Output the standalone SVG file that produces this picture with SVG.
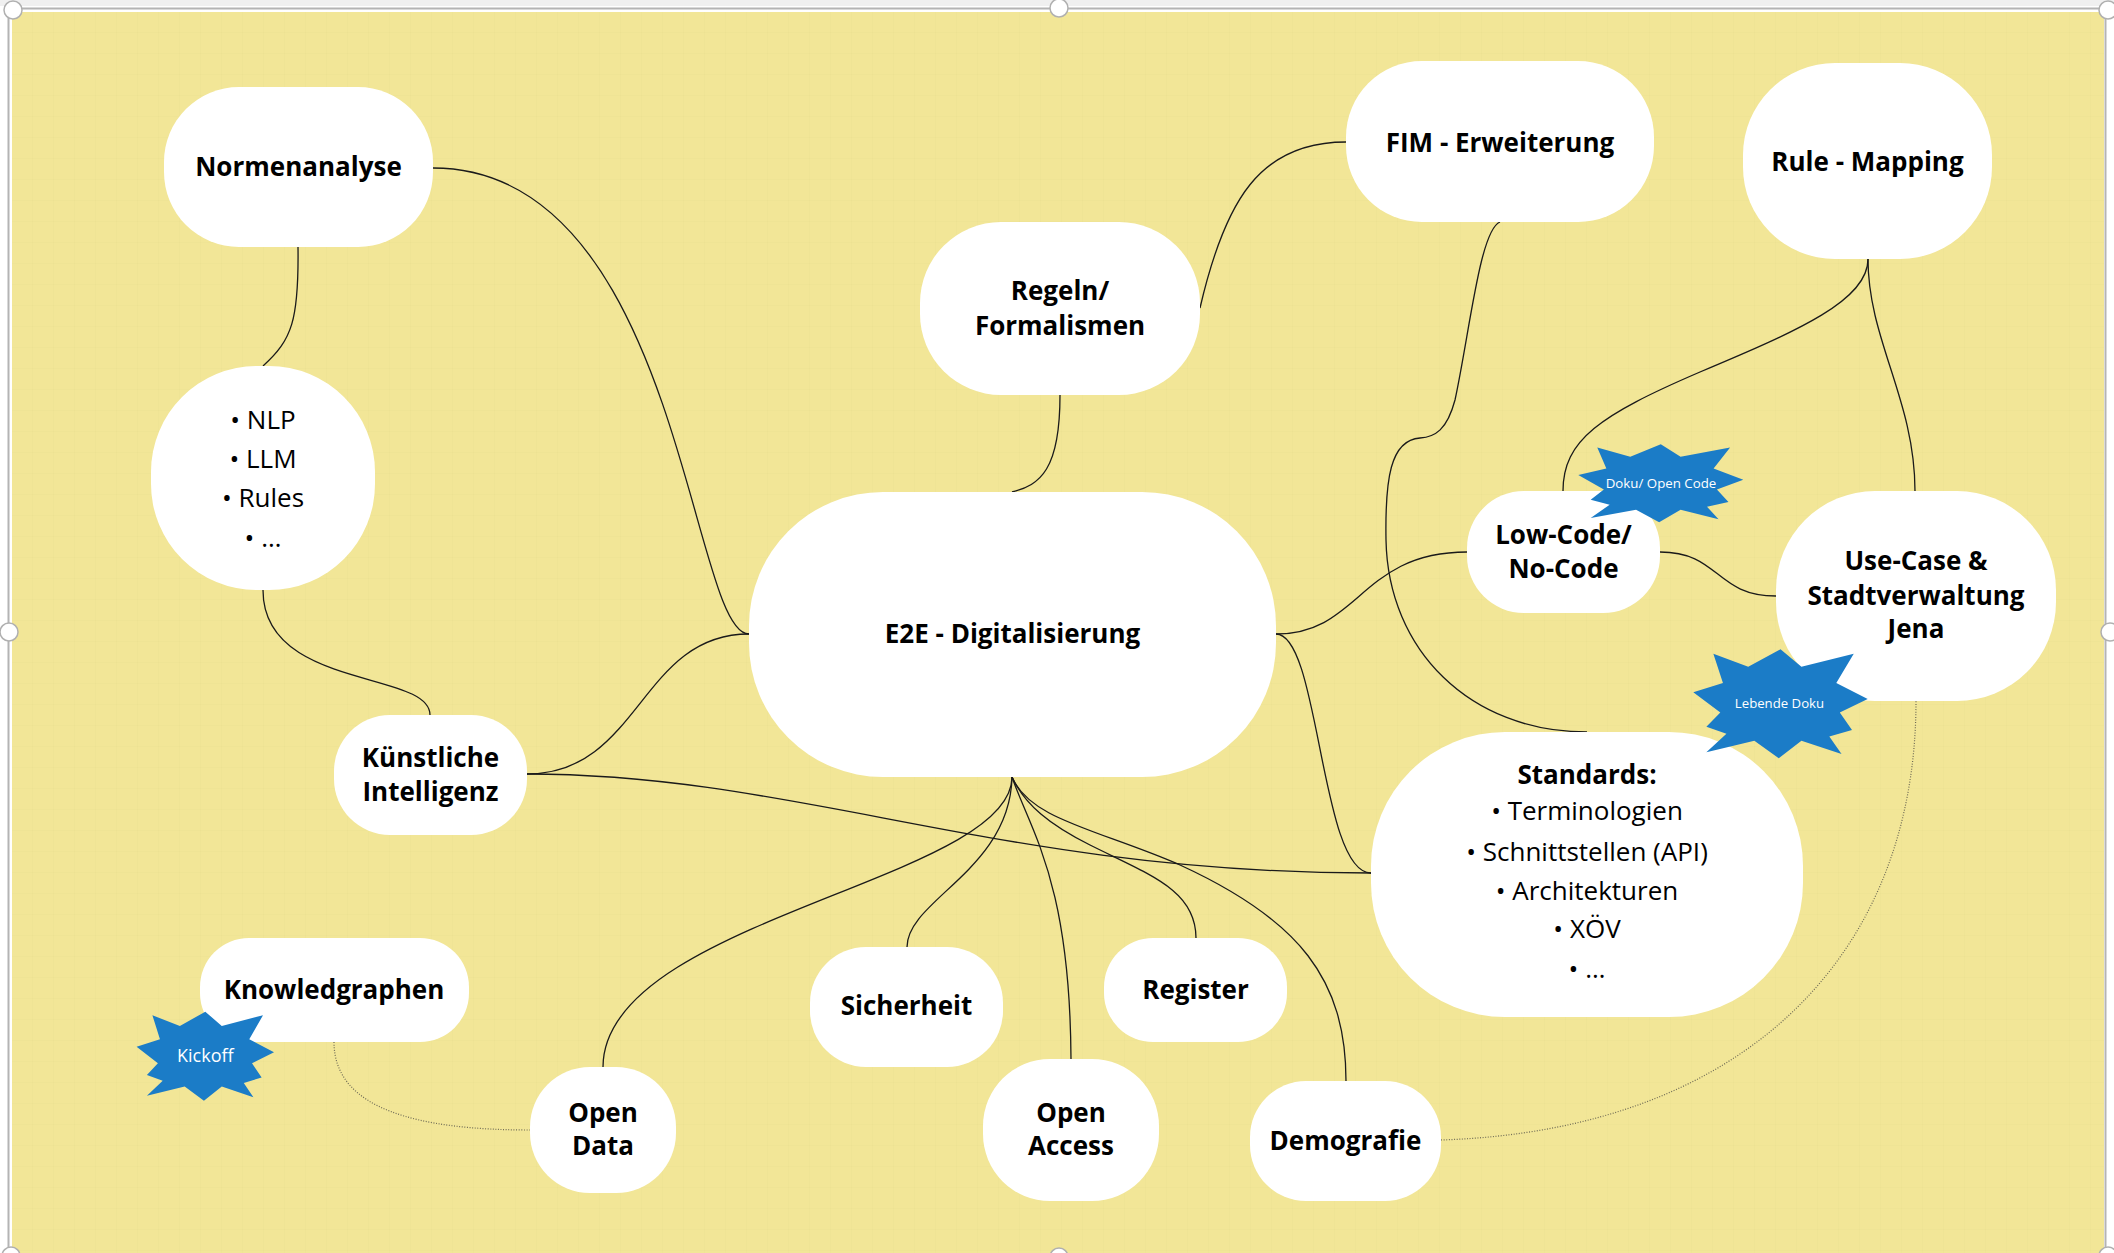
<svg xmlns="http://www.w3.org/2000/svg" width="2114" height="1253" viewBox="0 0 2114 1253">
<defs>
<style>
.node{fill:#ffffff}
.t{font-family:"Open Sans","Liberation Sans",sans-serif;font-weight:bold;font-size:26px;fill:#000;text-anchor:middle}
.r{font-family:"Open Sans","Liberation Sans",sans-serif;font-weight:normal;font-size:26px;fill:#000;text-anchor:middle}
.st{font-family:"Open Sans","Liberation Sans",sans-serif;font-weight:normal;fill:#ffffff;text-anchor:middle}
.c{fill:none;stroke:#1a1a1a;stroke-width:1.3}
.d{fill:none;stroke:#6e6a55;stroke-width:1.2;stroke-dasharray:1 1.6}
.burst{fill:#1b7cc7}
.h{fill:#ffffff;stroke:#b0b0b0;stroke-width:1.5}
</style>
<pattern id="grid" width="21" height="21" patternUnits="userSpaceOnUse" x="12" y="12">
<path d="M21 0V21M0 21H21" fill="none" stroke="#e6da8a" stroke-width="0.8" opacity="0.45"/>
</pattern>
<path id="star" d="M-77,-92 L-37,-68 L0,-100 L24,-68 L84,-92 L64,-38 L100,-9 L68,16 L82,48 L56,60 L70,92 L24,68 L-2,100 L-30,68 L-85,89 L-62,55 L-85,42 L-69,16 L-100,-21 L-66,-38 Z"/>
</defs>
<rect x="0" y="0" width="2114" height="1253" fill="#ffffff"/>
<rect x="0" y="0" width="2114" height="6" fill="#f0f0f0"/>
<rect x="8.5" y="8.5" width="2097" height="1250" fill="none" stroke="#b4b4b4" stroke-width="2"/>
<rect x="12" y="12" width="2092" height="1241" fill="#f2e697"/>
<rect x="12" y="12" width="2092" height="1241" fill="url(#grid)"/>

<g id="connectors">
<path class="c" d="M433,168 C680,168 690,634 749,634"/>
<path class="c" d="M298,247 C299,320 292,340 263,366"/>
<path class="c" d="M263,590 C263,690 430,670 430,715"/>
<path class="c" d="M527,774 C640,774 640,634 749,634"/>
<path class="c" d="M527,774 C800,774 1000,873 1371,873"/>
<path class="c" d="M1060,395 C1060,470 1040,485 1012,492"/>
<path class="c" d="M1200,308 C1225,200 1260,142 1346,142"/>
<path class="c" d="M1500,222 C1480,230 1470,330 1455,400 C1447,430 1435,437 1420,438 C1390,440 1385,480 1386,540 C1388,650 1470,732 1587,732"/>
<path class="c" d="M1276,634 C1360,634 1360,552 1467,552"/>
<path class="c" d="M1276,634 C1320,634 1320,873 1371,873"/>
<path class="c" d="M1660,552 C1720,552 1715,596 1776,596"/>
<path class="c" d="M1563,491 C1563,440 1600,415 1700,372 C1800,330 1868,300 1868,259"/>
<path class="c" d="M1868,259 C1868,340 1915,400 1915,491"/>
<path class="c" d="M1012,777 C1012,880 603,920 603,1067"/>
<path class="c" d="M1012,777 C1010,870 907,900 907,947"/>
<path class="c" d="M1012,777 C1030,830 1070,880 1071,1059"/>
<path class="c" d="M1012,777 C1025,805 1050,825 1090,845 C1150,875 1196,890 1196,938"/>
<path class="c" d="M1012,777 C1030,820 1100,830 1180,865 C1300,920 1346,980 1346,1081"/>
<path class="d" d="M334,1042 C334,1110 420,1130 530,1130"/>
<path class="d" d="M1441,1140 C1750,1130 1916,950 1916,701"/>
</g>

<g id="node-normenanalyse">
<rect class="node" x="164" y="87" width="269" height="160" rx="75" ry="75"/>
<text class="t" x="298.5" y="176">Normenanalyse</text>
</g>
<g id="node-methods">
<rect class="node" x="151" y="366" width="224" height="224" rx="106" ry="106"/>
<text class="r" x="263" y="428.5">• NLP</text>
<text class="r" x="263" y="468">• LLM</text>
<text class="r" x="263" y="507">• Rules</text>
<text class="r" x="263" y="547">• …</text>
</g>
<g id="node-ki">
<rect class="node" x="334" y="715" width="193" height="120" rx="56" ry="56"/>
<text class="t" x="430.5" y="767">Künstliche</text>
<text class="t" x="430.5" y="801">Intelligenz</text>
</g>
<g id="node-knowledgraphen">
<rect class="node" x="200" y="938" width="269" height="104" rx="49" ry="49"/>
<text class="t" x="334" y="999">Knowledgraphen</text>
</g>
<g id="node-opendata">
<rect class="node" x="530" y="1067" width="146" height="126" rx="60" ry="60"/>
<text class="t" x="603" y="1122">Open</text>
<text class="t" x="603" y="1155">Data</text>
</g>
<g id="node-sicherheit">
<rect class="node" x="810" y="947" width="193" height="120" rx="56" ry="56"/>
<text class="t" x="906.5" y="1015">Sicherheit</text>
</g>
<g id="node-openaccess">
<rect class="node" x="983" y="1059" width="176" height="142" rx="67" ry="67"/>
<text class="t" x="1071" y="1122">Open</text>
<text class="t" x="1071" y="1155">Access</text>
</g>
<g id="node-register">
<rect class="node" x="1104" y="938" width="183" height="104" rx="49" ry="49"/>
<text class="t" x="1195.5" y="999">Register</text>
</g>
<g id="node-demografie">
<rect class="node" x="1250" y="1081" width="191" height="120" rx="56" ry="56"/>
<text class="t" x="1345.5" y="1150">Demografie</text>
</g>
<g id="node-e2e">
<rect class="node" x="749" y="492" width="527" height="285" rx="134" ry="134"/>
<text class="t" x="1012.5" y="643">E2E - Digitalisierung</text>
</g>
<g id="node-regeln">
<rect class="node" x="920" y="222" width="280" height="173" rx="81" ry="81"/>
<text class="t" x="1060" y="300">Regeln/</text>
<text class="t" x="1060" y="335">Formalismen</text>
</g>
<g id="node-fim">
<rect class="node" x="1346" y="61" width="308" height="161" rx="76" ry="76"/>
<text class="t" x="1500" y="152">FIM - Erweiterung</text>
</g>
<g id="node-rulemapping">
<rect class="node" x="1743" y="63" width="249" height="196" rx="92" ry="92"/>
<text class="t" x="1867.5" y="171">Rule - Mapping</text>
</g>
<g id="node-lowcode">
<rect class="node" x="1467" y="491" width="193" height="122" rx="57" ry="57"/>
<text class="t" x="1563.5" y="544">Low-Code/</text>
<text class="t" x="1563.5" y="578">No-Code</text>
</g>
<g id="node-usecase">
<rect class="node" x="1776" y="491" width="280" height="210" rx="99" ry="99"/>
<text class="t" x="1916" y="570">Use-Case &amp;</text>
<text class="t" x="1916" y="605">Stadtverwaltung</text>
<text class="t" x="1916" y="638">Jena</text>
</g>
<g id="node-standards">
<rect class="node" x="1371" y="732" width="432" height="285" rx="134" ry="134"/>
<text class="t" x="1587" y="784">Standards:</text>
<text class="r" x="1587" y="820">• Terminologien</text>
<text class="r" x="1587" y="861">• Schnittstellen (API)</text>
<text class="r" x="1587" y="900">• Architekturen</text>
<text class="r" x="1587" y="938">• XÖV</text>
<text class="r" x="1587" y="978">• …</text>
</g>

<g id="badge-kickoff">
<use href="#star" class="burst" transform="translate(205.3,1056.2) scale(0.687,0.445)"/>
<text class="st" x="205.3" y="1062" font-size="18">Kickoff</text>
</g>
<g id="badge-doku-open-code">
<use href="#star" class="burst" transform="translate(1660.8,483.3) scale(0.825,0.39)"/>
<text class="st" x="1661" y="488" font-size="13.3">Doku/ Open Code</text>
</g>
<g id="badge-lebende-doku">
<use href="#star" class="burst" transform="translate(1780.5,703.8) scale(0.872,0.545)"/>
<text class="st" x="1779.5" y="708" font-size="13.2">Lebende Doku</text>
</g>

<g id="handles">
<circle class="h" cx="13" cy="10" r="9"/>
<circle class="h" cx="1059" cy="8" r="9"/>
<circle class="h" cx="2108" cy="10" r="9"/>
<circle class="h" cx="9" cy="632" r="9"/>
<circle class="h" cx="2110" cy="632" r="9"/>
<circle class="h" cx="11" cy="1256" r="9"/>
<circle class="h" cx="1059" cy="1257" r="9"/>
<circle class="h" cx="2108" cy="1256" r="9"/>
</g>
</svg>
